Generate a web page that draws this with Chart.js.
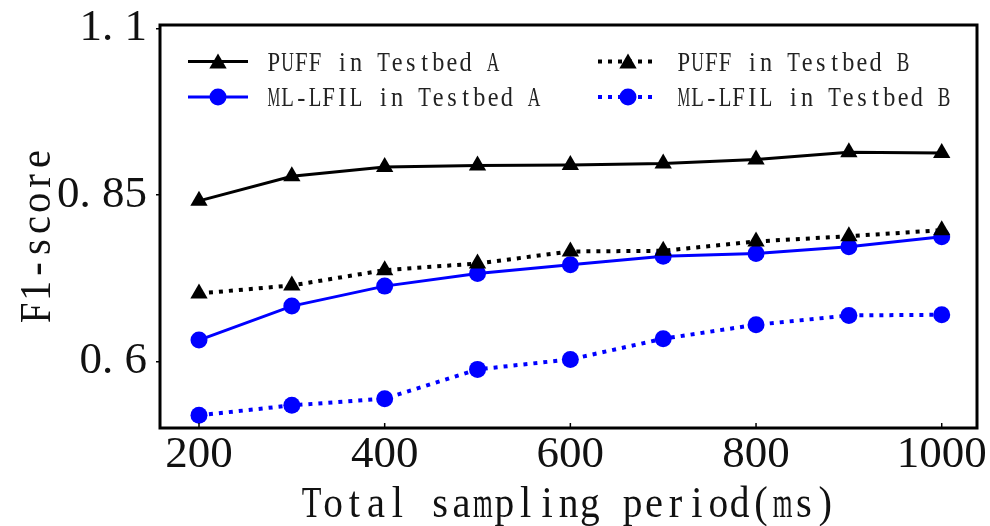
<!DOCTYPE html>
<html>
<head>
<meta charset="utf-8">
<script src="https://cdn.jsdelivr.net/npm/chart.js@4.4.0/dist/chart.umd.min.js"></script>
<style>
  html, body { margin: 0; padding: 0; background: #fff; }
</style>
</head>
<body>
<canvas id="chart" width="990" height="526"></canvas>
<script>
// sampling periods (ms)
const xValues = [200, 300, 400, 500, 600, 700, 800, 900, 1000];

// F1-score series
const puffA = [0.841, 0.878, 0.892, 0.894, 0.895, 0.897, 0.903, 0.914, 0.913];
const mlA   = [0.632, 0.683, 0.713, 0.732, 0.745, 0.758, 0.762, 0.772, 0.787];
const puffB = [0.702, 0.714, 0.737, 0.747, 0.765, 0.766, 0.780, 0.788, 0.797];
const mlB   = [0.519, 0.534, 0.544, 0.588, 0.603, 0.634, 0.655, 0.669, 0.670];

const seriesNames = ['PUFF in Testbed A', 'ML-LFIL in Testbed A', 'PUFF in Testbed B', 'ML-LFIL in Testbed B'];

// ticks
const xTickValues = [200, 400, 600, 800, 1000];
const yTickValues = [0.6, 0.85, 1.1];
const yTickLabels = ['0. 6', '0. 85', '1. 1'];

const xTitle = 'Total sampling period(ms)';
const yTitle = 'F1-score';

const SERIF = '"Liberation Serif", "DejaVu Serif", serif';
const BLUE = '#0000ff';

function toPoints(values) {
    return values.map((v, i) => ({ x: xValues[i], y: v }));
}

const datasets = [
    { label: seriesNames[0], data: toPoints(puffA), borderColor: '#000', backgroundColor: '#000',
      borderWidth: 3, pointStyle: 'triangle', pointRadius: 10, order: 4 },
    { label: seriesNames[1], data: toPoints(mlA), borderColor: BLUE, backgroundColor: BLUE,
      borderWidth: 3, pointStyle: 'circle', pointRadius: 8.5, order: 3 },
    { label: seriesNames[2], data: toPoints(puffB), borderColor: '#000', backgroundColor: '#000',
      borderWidth: 4, borderDash: [4, 6], pointStyle: 'triangle', pointRadius: 10, order: 2 },
    { label: seriesNames[3], data: toPoints(mlB), borderColor: BLUE, backgroundColor: BLUE,
      borderWidth: 4, borderDash: [4, 6], pointStyle: 'circle', pointRadius: 8.5, order: 1 }
];
datasets.forEach(d => {
    d.pointBorderWidth = 0;
    d.pointHoverRadius = d.pointRadius;
    d.tension = 0;
    d.fill = false;
});

// draws text as fixed-width cells, squeezing wide glyphs to fit
function drawMono(ctx, text, x0, yBase, cell, maxSx) {
    for (let i = 0; i < text.length; i++) {
        const ch = text[i];
        if (ch === ' ') continue;
        const w = ctx.measureText(ch).width || 1;
        const sx = Math.min(maxSx, cell * 0.92 / w);
        ctx.save();
        ctx.translate(x0 + (i + 0.5) * cell, yBase);
        ctx.scale(sx, 1);
        ctx.fillText(ch, 0, 0);
        ctx.restore();
    }
}

function drawMarker(ctx, style, x, y, r) {
    ctx.beginPath();
    if (style === 'triangle') {
        ctx.moveTo(x, y - r);
        ctx.lineTo(x + r * Math.sin(Math.PI * 2 / 3), y - r * Math.cos(Math.PI * 2 / 3));
        ctx.lineTo(x + r * Math.sin(Math.PI * 4 / 3), y - r * Math.cos(Math.PI * 4 / 3));
        ctx.closePath();
    } else {
        ctx.arc(x, y, r, 0, Math.PI * 2);
    }
    ctx.fill();
}

const decorPlugin = {
    id: 'decor',
    afterDraw(chart) {
        const { ctx, chartArea: a, scales } = chart;
        ctx.save();

        // frame
        ctx.strokeStyle = '#000';
        ctx.lineWidth = 3;
        ctx.strokeRect(a.left, a.top, a.right - a.left, a.bottom - a.top);

        // inward ticks on the x axis
        ctx.lineWidth = 1.5;
        xTickValues.forEach(v => {
            const px = scales.x.getPixelForValue(v);
            ctx.beginPath();
            ctx.moveTo(px, a.bottom);
            ctx.lineTo(px, a.bottom - 5);
            ctx.stroke();
        });

        // axis titles
        ctx.fillStyle = '#111';
        ctx.textAlign = 'center';
        ctx.textBaseline = 'alphabetic';
        ctx.font = '45px ' + SERIF;
        const cellX = 21.4;
        const cx = (a.left + a.right) / 2;
        drawMono(ctx, xTitle, cx - xTitle.length * cellX / 2, 517, cellX, 0.9);

        ctx.save();
        ctx.translate(50, 236);
        ctx.rotate(-Math.PI / 2);
        drawMono(ctx, yTitle, -yTitle.length * 22 / 2, 0, 22, 0.9);
        ctx.restore();

        // legend, two columns
        const cols = [188, 598];
        const rows = [61.5, 97];
        const slots = [[0, 0], [0, 1], [1, 0], [1, 1]];
        ctx.font = '27px ' + SERIF;
        datasets.forEach((d, i) => {
            const [c, r] = slots[i];
            const x = cols[c], y = rows[r];
            ctx.save();
            ctx.strokeStyle = d.borderColor;
            ctx.lineWidth = d.borderWidth;
            ctx.setLineDash(d.borderDash || []);
            ctx.beginPath();
            ctx.moveTo(x, y);
            ctx.lineTo(x + 60, y);
            ctx.stroke();
            ctx.setLineDash([]);
            ctx.fillStyle = d.backgroundColor;
            drawMarker(ctx, d.pointStyle, x + 30, y + (d.pointStyle === 'triangle' ? 2 : 0), d.pointRadius);
            ctx.restore();
            ctx.fillStyle = '#222';
            drawMono(ctx, d.label, x + 79, y + 9, 13.7, 0.9);
        });

        ctx.restore();
    }
};

new Chart(document.getElementById('chart'), {
    type: 'line',
    data: { datasets },
    options: {
        responsive: false,
        animation: false,
        layout: { padding: { top: 25, right: 13, left: 0, bottom: 0 } },
        plugins: { legend: { display: false }, tooltip: { enabled: false } },
        scales: {
            x: {
                type: 'linear',
                min: 158,
                max: 1038,
                border: { display: false },
                grid: { display: false, drawTicks: false },
                afterBuildTicks: s => { s.ticks = xTickValues.map(v => ({ value: v })); },
                afterFit: s => { s.height = 98; s.paddingLeft = 0; s.paddingRight = 0; },
                ticks: {
                    autoSkip: false,
                    maxRotation: 0,
                    padding: 0,
                    color: '#111',
                    font: { family: SERIF, size: 45, lineHeight: 1.2 },
                    callback: v => String(v)
                }
            },
            y: {
                min: 0.5,
                max: 1.105,
                border: { display: false },
                grid: { drawOnChartArea: false, drawTicks: true, tickLength: 4, color: '#000', lineWidth: 1.5 },
                afterBuildTicks: s => { s.ticks = yTickValues.map(v => ({ value: v })); },
                afterFit: s => { s.width = 160; s.paddingTop = 0; s.paddingBottom = 0; },
                ticks: {
                    autoSkip: false,
                    padding: 9,
                    color: '#111',
                    font: { family: SERIF, size: 45, lineHeight: 1.2 },
                    callback: (v, i) => yTickLabels[yTickValues.indexOf(v)] ?? ''
                }
            }
        }
    },
    plugins: [decorPlugin]
});
</script>
</body>
</html>
